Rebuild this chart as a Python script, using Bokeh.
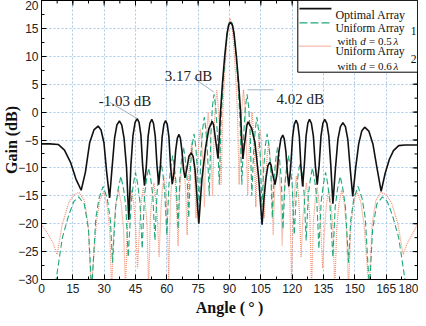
from bokeh.plotting import figure
from bokeh.models import Range1d, FixedTicker, Label
from bokeh.embed import file_html
from bokeh.resources import INLINE

# ---------------- data ----------------
x_ticks = [0, 15, 30, 45, 60, 75, 90, 105, 120, 135, 150, 165, 180]
y_ticks = [-30, -25, -20, -15, -10, -5, 0, 5, 10, 15, 20]
x_minor = [7.5 * i for i in range(25)]
y_minor = [-30 + 2.5 * i for i in range(21)]

optimal_pts = [
    (0, -5.7), (4, -5.7), (8, -5.8), (11, -6.8), (13.9, -9.0), (16.5, -12.0), (19, -14.0),
    (21, -10.8), (23.05, -5.5), (25.1, -3.2), (27.1, -2.5), (28.5, -3.2), (29.9, -5.5), (31.2, -10.8), (32.6, -15.4),
    (33.8, -9.9), (35, -4.6), (36.1, -2.3), (37.3, -1.6), (38.4, -2.3), (39.5, -4.6), (40.7, -9.9), (41.8, -19.3),
    (42.8, -9.45), (43.8, -4.15), (44.8, -1.85), (45.8, -1.15), (46.7, -1.85), (47.6, -4.15), (48.4, -9.45), (49.3, -13.2),
    (50.2, -9.6), (51.05, -4.3), (51.9, -2.0), (52.8, -1.3), (53.6, -2.0), (54.45, -4.3), (55.3, -9.6), (56.1, -13.0),
    (56.9, -9.8), (57.75, -4.5), (58.6, -2.2), (59.4, -1.5), (60.2, -2.2), (61.0, -4.5), (61.8, -9.8), (62.6, -12.9),
    (63.4, -11.0), (64.2, -7.0), (65.0, -4.7), (65.8, -4.0), (66.5, -4.7), (67.25, -7.0), (68.0, -10.3), (68.7, -11.8),
    (69.5, -10.3), (70.6, -7.9), (71.7, -7.3), (72.6, -8.0), (73.5, -10.3), (74.4, -15.0), (75.3, -20.0),
    (76.8, -12.0), (78.5, -6.5), (80.1, -3.0), (81.7, -1.65), (82.4, -2.3), (83.1, -4.3), (83.8, -6.3), (84.5, -8.3),
    (85.1, -4.5), (85.7, 0), (86.7, 5.5), (87.7, 10), (88.8, 14), (89.6, 15.6), (90.5, 16.1), (91.4, 15.6),
    (92.2, 14), (93.3, 10), (94.3, 5.5), (95.3, 0), (95.8, -4.5), (96.4, -8.4),
    (97.1, -6.0), (97.65, -4.3), (98.3, -2.4), (98.9, -1.75), (100.6, -2.9), (102.2, -5.5), (103.9, -11.5), (105.6, -20.2),
    (106.5, -15.5), (107.4, -12.0), (108.4, -9.6), (109.3, -9.0), (109.9, -9.5), (110.5, -10.8), (111.2, -12.0), (111.8, -13.0),
    (112.7, -11.2), (113.6, -7.2), (114.6, -4.8), (115.5, -4.1), (116.2, -4.8), (117.0, -7.1), (117.7, -10.8), (118.4, -13.3),
    (119.3, -9.8), (120.2, -4.5), (121.0, -2.2), (121.9, -1.45), (122.7, -2.2), (123.45, -4.5), (124.2, -9.8), (125.0, -13.3),
    (125.8, -9.6), (126.65, -4.3), (127.5, -2.0), (128.3, -1.3), (129.2, -2.0), (130.15, -4.3), (131.1, -9.6), (132.0, -13.0),
    (132.9, -9.6), (133.8, -4.3), (134.7, -2.0), (135.6, -1.3), (136.6, -2.0), (137.55, -4.3), (138.5, -9.6), (139.5, -16.4),
    (140.7, -10.2), (141.9, -4.9), (143.1, -2.6), (144.3, -1.9), (145.5, -2.6), (146.65, -4.9), (147.8, -10.2), (149.0, -15.1),
    (150.4, -10.0), (151.85, -5.7), (153.3, -3.4), (154.7, -2.7), (156.7, -3.4), (158.65, -5.7), (160.6, -10.0), (162.6, -14.2),
    (164.5, -11.0), (166.5, -8.5), (168.5, -6.9), (171, -6.0), (174, -5.9), (180, -5.9),
]

uniform1_pts = [
    (0, -40), (4, -36), (7, -30), (10, -22.5), (13, -18.5), (15.5, -16), (17.8, -15.2), (20.5, -16.5), (22.5, -21), (24, -32),
    (26, -19), (27.5, -15.5), (29.5, -13.3), (31.5, -15.5), (33, -19.5), (34, -27),
    (35.5, -17), (36.7, -13.8), (38, -11.5), (39.3, -13.8), (40.4, -17), (41.5, -26),
    (43, -16), (44, -12.8), (45, -10.8), (46, -12.8), (47.1, -16), (48.2, -24.5),
    (49.3, -15), (50.3, -12), (51.3, -10), (52.3, -12), (53.3, -15), (54.3, -23),
    (55.3, -14.5), (56.2, -11), (57.2, -9), (58.1, -11), (59, -14.5), (60, -22),
    (61, -13), (61.9, -9.8), (62.8, -7.8), (63.6, -9.8), (64.5, -13), (65.4, -21),
    (66.2, -12), (67.1, -8.3), (68, -6.3), (68.8, -8.3), (69.7, -12), (70.5, -19),
    (71.3, -10), (72.1, -6), (73, -3.9), (73.8, -6), (74.6, -10), (75.5, -17),
    (76.3, -7.5), (77.1, -3.2), (77.9, -0.9), (78.7, -3.2), (79.5, -7.5), (80.3, -15),
    (81.1, -4), (81.8, 0.9), (82.6, 3.2), (83.4, 0.9), (84.2, -4), (85.1, -13),
    (86, -1), (87, 5.5), (88, 10.5), (89, 14.5), (89.7, 15.9), (90.5, 16.3),
    (91.3, 15.9), (92, 14.5), (93, 10.5), (94, 5.5), (95, -1), (95.9, -13),
    (96.8, -4), (97.6, 0.9), (98.4, 3.2), (99.2, 0.9), (99.9, -4), (100.7, -15),
    (101.5, -7.5), (102.3, -3.2), (103.1, -0.9), (103.9, -3.2), (104.7, -7.5), (105.5, -17),
    (106.4, -10), (107.2, -6), (108, -3.9), (108.9, -6), (109.7, -10), (110.5, -19),
    (111.3, -12), (112.2, -8.3), (113, -6.3), (113.9, -8.3), (114.8, -12), (115.6, -21),
    (116.5, -13), (117.4, -9.8), (118.2, -7.8), (119.1, -9.8), (120, -13), (121, -22),
    (122, -14.5), (122.9, -11), (123.8, -9), (124.8, -11), (125.7, -14.5), (126.7, -23),
    (127.7, -15), (128.7, -12), (129.7, -10), (130.7, -12), (131.7, -15), (132.8, -24.5),
    (133.9, -16), (135, -12.8), (136, -10.8), (137, -12.8), (138, -16), (139.5, -26),
    (140.6, -17), (141.7, -13.8), (143, -11.5), (144.3, -13.8), (145.5, -17), (147, -27),
    (148, -19.5), (149.5, -15.5), (151.5, -13.3), (153.5, -15.5), (155, -19), (157, -32),
    (158.5, -21), (160.5, -16.5), (163.2, -15.2), (165.5, -16), (168, -18.5), (171, -22.5), (174, -30), (177, -36), (180, -40),
]

uniform2_pts = [
    (0, -20.2), (3, -21.8), (5.5, -23.5), (7.5, -25.5), (10, -20), (13, -16.3), (15.5, -14.8), (18, -14.4), (20.5, -15.8), (22.3, -20), (23.8, -32),
    (26.2, -20), (27.8, -16), (29.7, -14.2), (31.3, -16.5), (32.6, -21), (33.6, -32),
    (34.6, -21), (35.6, -16.5), (36.9, -13.9), (38.2, -16.5), (39.3, -21), (40.2, -32),
    (41.1, -21), (42, -16.5), (43.1, -14), (44.2, -16.5), (45.1, -21), (46, -28),
    (47, -20), (47.8, -16), (48.7, -13.5), (49.6, -16), (50.5, -20), (51.3, -32),
    (52.1, -19), (52.9, -15.3), (53.8, -12.7), (54.6, -15.3), (55.5, -19), (56.3, -26),
    (57.1, -18), (57.8, -14), (58.6, -11.5), (59.4, -14), (60.1, -18), (60.9, -30),
    (61.7, -16), (62.4, -12.3), (63.2, -9.8), (64, -12.3), (64.6, -16), (65.4, -24),
    (66.2, -14), (66.9, -10.3), (67.6, -7.8), (68.3, -10.3), (69, -14), (69.7, -22),
    (70.5, -11.5), (71.2, -8), (71.9, -5.4), (72.6, -8), (73.3, -11.5), (74, -19),
    (74.7, -9), (75.3, -5.6), (76, -3), (76.7, -5.6), (77.3, -9), (78, -17),
    (78.7, -6), (79.3, -2.6), (79.8, 0), (80.4, -2.6), (81.1, -6), (81.9, -15),
    (82.7, -2.5), (83.3, 1.4), (83.9, 4.0), (84.5, 1.4), (85.2, -2.5), (86, -13),
    (86.8, 0), (87.7, 7), (88.6, 12), (89.4, 15.5), (90.3, 16.8),
    (91.2, 15.5), (92, 12), (92.9, 7), (93.8, 0), (94.6, -13),
    (95.4, -2.5), (96.1, 1.4), (96.7, 4.02), (97.3, 1.4), (97.9, -2.5), (98.7, -15),
    (99.5, -6), (100.2, -2.6), (100.8, 0), (101.3, -2.6), (101.9, -6), (102.6, -17),
    (103.3, -9), (103.9, -5.6), (104.6, -3), (105.3, -5.6), (105.9, -9), (106.6, -19),
    (107.3, -11.5), (108, -8), (108.7, -5.4), (109.4, -8), (110.1, -11.5), (110.9, -22),
    (111.6, -14), (112.3, -10.3), (113, -7.8), (113.7, -10.3), (114.4, -14), (115.2, -24),
    (116, -16), (116.6, -12.3), (117.4, -9.8), (118.2, -12.3), (118.9, -16), (119.7, -30),
    (120.5, -18), (121.2, -14), (122, -11.5), (122.8, -14), (123.5, -18), (124.3, -26),
    (125.1, -19), (126, -15.3), (126.8, -12.7), (127.7, -15.3), (128.5, -19), (129.3, -32),
    (130.1, -20), (131, -16), (131.9, -13.5), (132.8, -16), (133.6, -20), (134.6, -28),
    (135.5, -21), (136.4, -16.5), (137.5, -14), (138.6, -16.5), (139.5, -21), (140.4, -32),
    (141.3, -21), (142.4, -16.5), (143.7, -13.9), (145, -16.5), (146, -21), (147, -32),
    (148, -21), (149.3, -16.5), (150.9, -14.2), (152.8, -16), (154.4, -20), (156.8, -32),
    (158.3, -20), (160.1, -15.8), (162.6, -14.4), (165.1, -14.8), (167.6, -16.3), (170.6, -20),
    (173.1, -25.5), (175.1, -23.5), (177.6, -21.8), (180, -20.2),
]

opt_angle, opt_gain = map(list, zip(*optimal_pts))
u1_angle, u1_gain = map(list, zip(*uniform1_pts))
u2_angle, u2_gain = map(list, zip(*uniform2_pts))

ann_texts = ["-1.03 dB", "3.17 dB", "4.02 dB"]

# ---------------- figure ----------------
SERIF = "Liberation Serif"
SANS = "Liberation Sans"
BLACK = "#111111"
GREEN = "#1fa878"
ORANGE = "#f38f72"

X0, X1, Y0, Y1 = 0, 180, -30, 20
p = figure(width=418, height=318, x_range=Range1d(X0, X1), y_range=Range1d(Y0, Y1),
           output_backend="svg", toolbar_location=None,
           min_border_left=0, min_border_right=1, min_border_top=0, min_border_bottom=0)
p.background_fill_color = "white"
p.border_fill_color = "white"
p.outline_line_color = "black"
p.outline_line_width = 1

xt = FixedTicker(ticks=x_ticks, minor_ticks=x_minor)
yt = FixedTicker(ticks=y_ticks, minor_ticks=y_minor)


def style_axis(ax, ticker):
    ax.ticker = ticker
    ax.major_tick_in = 5
    ax.major_tick_out = 0
    ax.minor_tick_in = 3
    ax.minor_tick_out = 0
    ax.major_tick_line_color = "black"
    ax.minor_tick_line_color = "black"
    ax.axis_line_color = "black"
    ax.major_label_text_font = SANS
    ax.major_label_text_font_size = "12px"
    ax.major_label_text_color = "#222222"
    ax.axis_label_text_font = SERIF
    ax.axis_label_text_font_style = "bold"
    ax.axis_label_text_font_size = "16px"
    ax.axis_label_text_color = "#111111"


style_axis(p.xaxis[0], xt)
style_axis(p.yaxis[0], yt)
p.xaxis[0].axis_label = "Angle (\u2009\u00b0\u2009)"
p.yaxis[0].axis_label = "Gain (dB)"
p.xaxis[0].major_label_standoff = 4
p.xaxis[0].axis_label_standoff = 3
p.yaxis[0].major_label_standoff = 3
p.yaxis[0].axis_label_standoff = -5

for g in (p.xgrid[0], p.ygrid[0]):
    g.grid_line_color = "#a8c8e8"
    g.grid_line_dash = "2 2"
    g.grid_line_width = 1
p.xgrid[0].ticker = xt
p.ygrid[0].ticker = yt

# mirrored inward ticks on the top and right edges of the frame
px_per_x = 376 / (X1 - X0)
px_per_y = 275 / (Y1 - Y0)
p.segment(x0=x_ticks, x1=x_ticks, y0=[Y1] * len(x_ticks), y1=[Y1 - 5 / px_per_y] * len(x_ticks),
          line_color="black", line_width=1)
p.segment(x0=x_minor, x1=x_minor, y0=[Y1] * len(x_minor), y1=[Y1 - 3 / px_per_y] * len(x_minor),
          line_color="black", line_width=1)
p.segment(x0=[X1] * len(y_ticks), x1=[X1 - 5 / px_per_x] * len(y_ticks), y0=y_ticks, y1=y_ticks,
          line_color="black", line_width=1)
p.segment(x0=[X1] * len(y_minor), x1=[X1 - 3 / px_per_x] * len(y_minor), y0=y_minor, y1=y_minor,
          line_color="black", line_width=1)

# ---------------- series ----------------
p.line(u2_angle, u2_gain, line_color=ORANGE, line_width=1.2, line_dash="1 1")
p.line(u1_angle, u1_gain, line_color=GREEN, line_width=1.1, line_dash="6 3")
p.line(opt_angle, opt_gain, line_color=BLACK, line_width=1.6)

# ---------------- annotations ----------------
LEAD = "#9fb3c0"
p.line([32.7, 45.8], [1.76, -1.15], line_color=LEAD, line_width=1)
p.line([72.9, 82.5], [6.1, 3.6], line_color=LEAD, line_width=1)
p.line([98.6, 111.1], [4.0, 4.0], line_color=LEAD, line_width=1)
p.add_layout(Label(x=40.0, y=1.95, text=ann_texts[0], text_font=SERIF, text_font_size="15px",
                   text_align="center", text_baseline="middle", text_color="#222222"))
p.add_layout(Label(x=70.4, y=6.45, text=ann_texts[1], text_font=SERIF, text_font_size="15px",
                   text_align="center", text_baseline="middle", text_color="#222222"))
p.add_layout(Label(x=112.5, y=2.3, text=ann_texts[2], text_font=SERIF, text_font_size="15px",
                   text_align="left", text_baseline="middle", text_color="#222222"))

# ---------------- legend (custom, drawn above the curves) ----------------
p.quad(left=[122.7], right=[180], bottom=[7.15], top=[20], fill_color="white",
       line_color="black", line_width=1)
p.line([123.5, 138.8], [18.55, 18.55], line_color=BLACK, line_width=1.6)
p.line([123.5, 138.8], [16.0, 16.0], line_color=GREEN, line_width=1.2, line_dash="8 3")
p.line([123.5, 138.8], [11.8, 11.8], line_color=ORANGE, line_width=1.3, line_dash="1 1")


def leg_text(x, y, t, size="11.6px", style="normal"):
    p.add_layout(Label(x=x, y=y, text=t, text_font=SERIF, text_font_size=size,
                       text_font_style=style, text_align="left", text_baseline="middle",
                       text_color="#111111"))


DY = -1.1
leg_text(140.7, 18.55 + DY, "Optimal Array", "12px")
leg_text(140.7, 16.0 + DY, "Uniform Array")
leg_text(176.8, 15.7 + DY, "1")
leg_text(141.7, 13.8 + DY, "with", "11px")
leg_text(152.6, 13.8 + DY, "d", "11px", "italic")
leg_text(156.8, 13.8 + DY, "= 0.5", "11px")
leg_text(168.5, 13.8 + DY, "\u03bb", "11px", "italic")
leg_text(140.7, 11.9 + DY, "Uniform Array")
leg_text(176.8, 10.7 + DY, "2")
leg_text(141.7, 9.4 + DY, "with", "11px")
leg_text(152.6, 9.4 + DY, "d", "11px", "italic")
leg_text(156.8, 9.4 + DY, "= 0.6", "11px")
leg_text(168.5, 9.4 + DY, "\u03bb", "11px", "italic")

open("out.html", "w").write(file_html(p, INLINE))
